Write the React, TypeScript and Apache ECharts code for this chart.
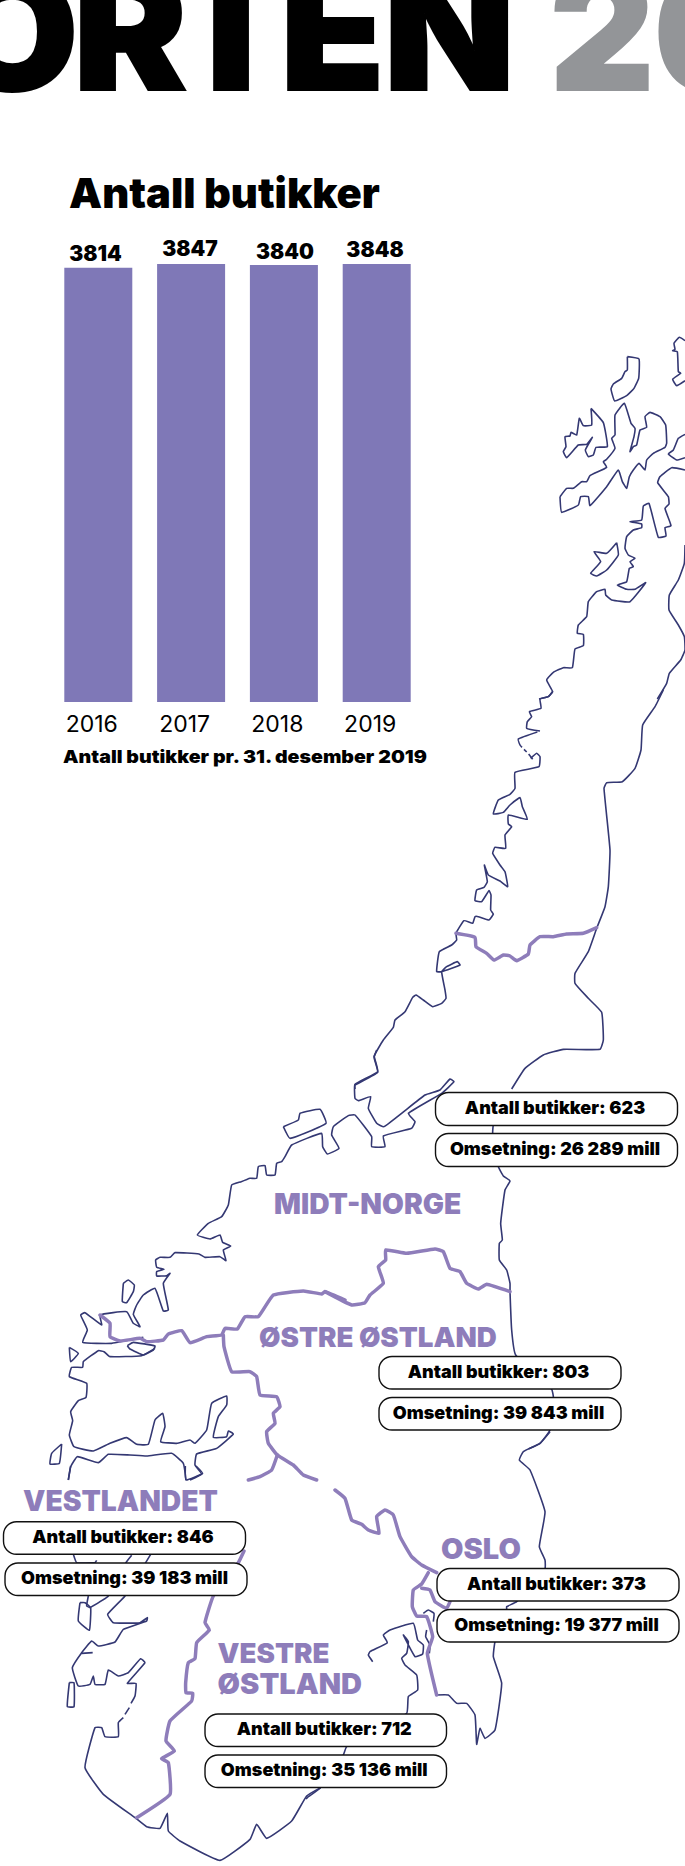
import React, { useEffect, useRef } from "react";
import * as echarts from "echarts";

const years = ["2016", "2017", "2018", "2019"];
const stores = [3814, 3847, 3840, 3848];
const valueLabelOffsets = [[-2.8, 0], [-1.1, -1], [1.1, 1], [-1.7, -0.5]];

const FONT = "Inter";
const NAVY = "#343873";
const PURPLE = "#8E7DBA";
const BAR = "#7F78B7";
const GREY = "#939598";

type Crop = [number, number, number[]];
const coast: Crop[] = [
  [340, 300, [830,728,835,765,800,810,770,828,752,820,782,785,762,755,800,760,830,728]],
  [340, 300, [862,170,897,177,896,235,882,265,860,287,824,303,813,267,820,252,845,235,855,215,862,210,862,170]],
  [340, 300, [753,325,790,368,802,440,768,442,760,465,745,470,736,450,757,412,740,433,715,435,680,473,670,455,678,440,675,410,690,408,693,397,710,405,718,355,730,377,755,375,753,325]],
  [340, 300, [660,590,680,565,700,565,725,545,740,545,750,527,800,502,790,485,800,478,825,445,815,415,825,405,825,345,853,310,873,370,885,385,882,410,870,455,880,440,890,435,900,390,920,382,915,350,930,337,960,350,977,375,980,430,975,442,940,460,920,480,915,510,897,490,880,510,868,530,860,565,847,545,835,510,800,560,750,617,745,590,722,590,715,615,665,637,660,590]],
  [340, 300, [1035,122,1018,112,1002,130,1005,148,998,152,1012,155,1015,215,1022,220,998,238,1010,257,1035,242]],
  [340, 300, [1035,403,1015,415,1000,450,985,462,1010,480,1035,473]],
  [340, 300, [1035,510,995,503,960,530,953,548,985,590,987,612,975,625,993,677,975,683,978,708,955,712,927,610,910,618,905,660,870,665,905,672,905,683,880,690,860,710,855,745,865,765,885,775,870,785,880,800,868,805,860,845,832,855,860,868,885,868,917,848,870,905,815,900,797,885,795,868,770,875,745,905,740,950,715,975,712,1000,730,1003,730,1037,705,1047,697,1103,670,1103,640,1117,620,1140,638,1175,625,1190,597,1197]],
  [340, 300, [1035,735,1033,790,1015,840,988,885,987,930,1015,975,1033,1010,1035,1050,1022,1080,988,1120,980,1150,952,1197]],
  [340, 690, [970,0,945,50,908,105,903,180,885,235,847,275,800,278,792,295,810,480,805,590,795,650,770,715,745,785,705,850,705,880,745,925,785,967,790,1050,780,1078,670,1078,610,1095,555,1135,515,1197]],
  [340, 690, [637,5,625,20,600,27,603,55,568,65,575,80,562,95,560,115,600,123]],
  [340, 690, [592,126,535,147,540,165,546,172]],
  [340, 690, [552,178,560,186]],
  [340, 690, [566,192,578,208]],
  [340, 690, [572,205,590,190,600,200,597,230,525,247,525,295,510,313,475,330,460,372,490,367,510,345,540,323,547,350,562,388,505,375,505,402,515,410,495,435,497,475,465,472,458,490,480,525,495,545,503,590,480,573,445,555,433,525,442,575,432,592,410,600,405,632,425,635,447,602,453,615,452,660,460,672,447,690,415,680,405,680,398,700,372,692,348,730,350,750,335,765,298,785,290,845,305,845,360,825,352,815,320,830,305,845,315,900,318,925,305,940,278,950,250,930,228,915,218,922,195,965,165,990,160,1012,130,1050,102,1100,113,1147,45,1185,45,1197]],
  [240, 1050, [410,0,403,20,413,65,345,103,345,145,355,152,392,140,385,175,410,220,432,230,555,135,600,120,630,87,642,95,605,130,505,190,525,215,515,235,430,258,435,290,395,290,395,260,345,195,325,197,280,230,275,255,297,295,262,312,248,290,245,250,155,285,135,320,125,335,110,340,105,375,80,375,75,347,55,350,50,385,30,385,0,397]],
  [240, 1050, [130,230,175,210,180,190,240,178,258,220,150,265,130,230]],
  [240, 1050, [805,130,760,225,758,250,775,350,790,378,810,393,795,420,782,520,787,570,778,580,778,630,800,660,810,700,810,725,815,840,827,915,935,1018,940,1040,930,1140,900,1180,865,1197]],
  [280, 1400, [810,95,780,130,730,155,718,180,750,210,795,335,778,440,795,480,795,505,710,605,680,620,680,628,645,725,640,770,665,850,645,990,615,1015,600,985,590,1033,585,945,560,910,530,910,505,885,470,885]],
  [280, 1400, [278,785,265,765,270,755,322,728,310,705,330,690,400,670,413,720,430,735,428,762,405,770,370,705,385,725,380,760,365,775,375,795,410,825,413,870,385,890,380,940,200,1040,190,1065,120,1165,85,1190,78,1197]],
  [280, 1400, [430,640,445,630,462,640,460,665]],
  [280, 1400, [440,690,437,710,450,735,448,760]],
  [40, 1466, [842,965,800,990,755,1065,680,1117,650,1075,630,1120,540,1183,420,1125,385,1095,382,1042,360,1087,320,1082,285,1055,190,985,135,905,165,785,185,785,195,812,235,812,235,770,250,755]],
  [40, 1466, [255,745,268,725]],
  [40, 1466, [273,712,285,690,288,652,262,652,315,590,302,578,265,620,235,630,205,612,195,655,165,655,160,630,150,655,115,660,97,605,125,560,155,525,175,540,225,528,250,490,320,465,322,455,300,470,220,470,203,445,255,390,332,265]],
  [40, 1466, [125,562,158,560]],
  [40, 1466, [120,410,135,410,152,425,148,493,115,465,120,410]],
  [40, 1466, [150,425,205,390,258,290,275,268]],
  [40, 1466, [145,390,140,420,150,425]],
  [40, 1466, [88,650,102,650,102,722,82,722,88,650]],
  [40, 1466, [100,265,110,290,165,290,170,283]],
  [40, 1466, [85,42,92,0]],
  [40, 1466, [436,0,438,42,488,22,468,0]],
  [0, 1180, [720,6,695,15,685,75,665,110,625,130,592,165,630,177,660,165,668,187,692,198,670,210,678,242,660,230,615,232,597,222,525,218,510,232,480,232,467,240,470,262,492,268,470,275,470,288,500,287,510,280,490,310,505,390,490,393,465,325,430,345,410,375,400,403,420,440,400,430,380,395,300,405,305,435,255,398,242,405,262,450,248,487,335,490,430,472]],
  [0, 1180, [370,310,385,300,403,315,400,335,380,368,367,365,370,310]],
  [0, 1180, [382,497,400,487,465,498,460,510,430,525,390,507,382,497]],
  [0, 1180, [208,502,235,520,212,545,208,502]],
  [0, 1180, [465,505,425,527,330,530,312,515,295,512,250,545,248,562,215,562,208,590,260,610,258,652,235,662,212,695,218,722,208,765,222,800,280,813,330,790,380,773,410,793,445,793,465,720,488,700,495,740,482,785,530,790,570,780,585,790,620,750,635,670,680,648,680,675,655,710,640,772,680,770,685,753,700,762,650,805,590,822,585,855,605,882,570,900]],
  [0, 1180, [205,900,212,860,232,830,295,848,325,823,390,825,440,828,515,820,550,850,558,900]],
  [0, 1180, [185,792,178,850,150,852,155,820,185,792]],
];

const borders: Crop[] = [
  [340, 690, [348,730,405,742,408,770,440,790,462,810,490,795,510,798,530,812,565,792,570,765,600,740,640,740,680,732,730,730,770,713]],
  [0, 1180, [300,405,330,430,330,470,360,483,420,475,440,485,490,480,505,462,545,452,570,488,620,470,665,465,675,445,712,447,735,410,775,410,820,345,910,333,965,342,975,335,1035,360]],
  [240, 1050, [255,725,335,765,375,758,390,735,430,700,415,650,437,630,437,600,500,610,585,597,610,605,630,655,660,665,680,700,715,717,740,703,810,725]],
  [0, 1180, [670,465,672,500,695,575,750,575,770,590,780,645,830,650,840,680,820,700,825,730,800,755,805,790,832,825,880,855,910,885,950,900]],
  [0, 1180, [832,825,815,870,780,890,745,900]],
  [280, 1400, [165,270,195,295,215,360,245,373,265,390,297,400,290,350,315,330,340,345,360,410,395,470,425,495,470,518]],
  [280, 1400, [445,518,425,552,400,570,397,620,410,648,440,650,458,710,442,760,470,885]],
  [280, 1400, [425,565,450,570,465,605,500,625,510,605]],
  [40, 1466, [612,255,595,290,520,390,495,470,508,492,470,530,465,578,445,590,437,650,438,680,458,682,455,705,390,765,378,825,403,855,365,878,385,890,390,985,290,1055]],
];

const regionNames = ["MIDT-NORGE", "ØSTRE ØSTLAND", "VESTLANDET", "OSLO", "VESTRE", "ØSTLAND"];
const regionSpots = [[274, 1203.7, 28.2], [259, 1336.7, 27.7], [23, 1500.7, 28.2], [441, 1548.3, 29], [217.6, 1653.3, 27.7], [217.6, 1683, 29]];

const pillTexts = [
  "Antall butikker: 623", "Omsetning: 26 289 mill",
  "Antall butikker: 803", "Omsetning: 39 843 mill",
  "Antall butikker: 846", "Omsetning: 39 183 mill",
  "Antall butikker: 712", "Omsetning: 35 136 mill",
  "Antall butikker: 373", "Omsetning: 19 377 mill",
];
const pillBoxes = [
  [435.5, 1092.5, 242, 33], [435.5, 1133.5, 242, 33],
  [379, 1356.5, 242, 32.5], [379, 1397.5, 242, 32.5],
  [3.5, 1521.7, 242, 32.5], [5, 1563, 242, 32.5],
  [205, 1714, 241.5, 32.5], [205, 1755, 241.5, 32.5],
  [437, 1568.5, 242, 32.5], [437, 1609.5, 242, 32.5],
];

const toPoints = ([ox, oy, flat]: Crop) => {
  const pts: number[][] = [];
  for (let i = 0; i < flat.length; i += 2) pts.push([ox + flat[i] / 3, oy + flat[i + 1] / 3]);
  return pts;
};

function buildGraphics() {
  const g: any[] = [];
  coast.forEach((c) =>
    g.push({ type: "polyline", z: 5, shape: { points: toPoints(c), smooth: 0.12 }, style: { stroke: NAVY, lineWidth: 1.6, fill: "none", lineJoin: "round" } })
  );
  borders.forEach((c) =>
    g.push({ type: "polyline", z: 6, shape: { points: toPoints(c), smooth: 0.12 }, style: { stroke: PURPLE, lineWidth: 3.5, fill: "none", lineJoin: "round", lineCap: "round" } })
  );
  pillBoxes.forEach(([x, y, w, h], i) => {
    g.push({ type: "rect", z: 7, shape: { x, y, width: w, height: h, r: 13 }, style: { fill: "#fff", stroke: "#111", lineWidth: 1.4 } });
    g.push({
      type: "text", z: 8, x: x + w / 2 - 1.5, y: y + h / 2 - 1.5,
      style: { text: pillTexts[i], fontFamily: FONT, fontWeight: 900, fontSize: 18, fill: "#000", textAlign: "center", textVerticalAlign: "middle" },
    });
  });
  regionNames.forEach((name, i) => {
    const [x, y, size] = regionSpots[i];
    g.push({
      type: "text", z: 8, x, y,
      style: { text: name, fontFamily: FONT, fontWeight: 900, fontSize: size, fill: PURPLE, textAlign: "left", textVerticalAlign: "middle" },
    });
  });
  g.push({ type: "text", z: 9, x: 515, y: 111.5, scaleX: 1.06, style: { text: "ORTEN", fontFamily: FONT, fontWeight: 900, fontSize: 161, fill: "#000", stroke: "#000", lineWidth: 2, textAlign: "right", textVerticalAlign: "bottom" } });
  g.push({ type: "text", z: 9, x: 550, y: 111.5, style: { text: "20", fontFamily: FONT, fontWeight: 900, fontSize: 161, fill: GREY, stroke: GREY, lineWidth: 2, textAlign: "left", textVerticalAlign: "bottom" } });
  g.push({ type: "text", z: 9, x: 69, y: 193, style: { text: "Antall butikker", fontFamily: FONT, fontWeight: 900, fontSize: 41.7, fill: "#000", textAlign: "left", textVerticalAlign: "middle" } });
  g.push({ type: "text", z: 9, x: 63, y: 756, scaleX: 1.12, style: { text: "Antall butikker pr. 31. desember 2019", fontFamily: FONT, fontWeight: 900, fontSize: 17.5, fill: "#000", textAlign: "left", textVerticalAlign: "middle" } });
  return g;
}

export default function App() {
  const ref = useRef<HTMLDivElement>(null);
  useEffect(() => {
    document.body.style.margin = "0";
    const chart = echarts.init(ref.current!, undefined, { renderer: "svg" });
    chart.setOption({
      animation: false,
      backgroundColor: "#fff",
      grid: { left: 51.9, width: 371.2, top: 246.7, height: 455.3 },
      xAxis: {
        type: "category", data: years,
        axisLine: { show: false }, axisTick: { show: false },
        axisLabel: { color: "#000", fontFamily: FONT, fontWeight: 400, fontSize: 23, margin: 10, padding: [0, 13, 0, 0] },
      },
      yAxis: { type: "value", min: 0, max: 4000, show: false, splitLine: { show: false } },
      series: [{
        type: "bar", barWidth: 68,
        itemStyle: { color: BAR },
        label: { show: true, position: "top", distance: 4, color: "#000", fontFamily: FONT, fontWeight: 900, fontSize: 21 },
        data: stores.map((value, i) => ({ value, label: { offset: valueLabelOffsets[i] } })),
      }],
      graphic: { elements: buildGraphics() },
    });
    ref.current!.querySelectorAll("text").forEach((t) => {
      if (t.textContent === "ORTEN") t.setAttribute("dx", "0 -5 -14 -9 -1");
    });
    return () => chart.dispose();
  }, []);
  return <div ref={ref} style={{ width: 685, height: 1866 }} />;
}
